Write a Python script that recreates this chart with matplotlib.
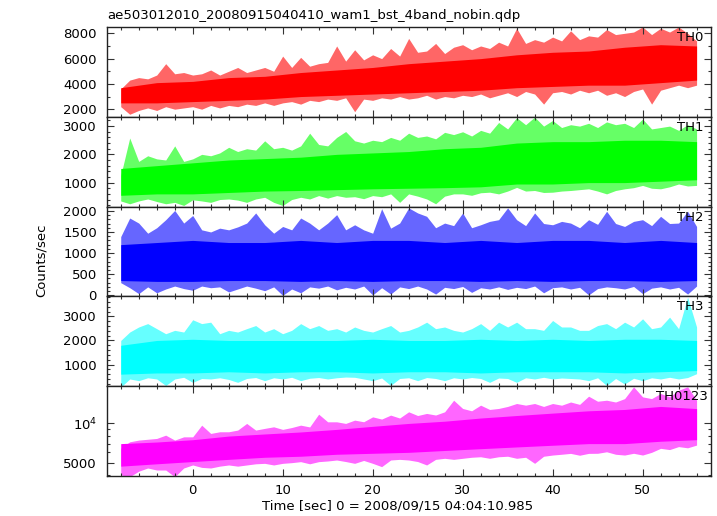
import numpy as np
import matplotlib
matplotlib.use("Agg")
import matplotlib.pyplot as plt
from matplotlib.ticker import MultipleLocator, FixedLocator, FixedFormatter, LogLocator, NullFormatter

plt.rcParams['font.family'] = ['DejaVu Sans']
plt.rcParams['font.size'] = 9.5

# time bins [sec], one per second
t = np.arange(-8, 57)
# coarse times for the dense core of each curve
tc = np.arange(-8, 57, 4)

# spike tops / bottoms of each light curve (counts/sec)
th0_hi = [3600, 4300, 4500, 4400, 4700, 5600, 4800, 4900, 4700, 4800, 5100, 4700, 5000,
          5300, 4900, 5100, 5300, 5000, 6200, 5300, 6100, 5400, 5600, 5700, 7000, 5800,
          6700, 5900, 6300, 6000, 6800, 6200, 7600, 6500, 6600, 7200, 6400, 6900, 7100,
          6700, 7000, 6800, 7300, 7000, 8400, 7200, 7500, 7300, 7700, 7400, 8200, 7500,
          7800, 7700, 8300, 7900, 8000, 8100, 8500, 7900, 8400, 8100, 8500, 8000, 7400]
th0_lo = [2200, 1600, 1900, 2100, 1900, 2200, 2000, 2100, 2200, 2000, 2300, 2100, 2300,
          2200, 2400, 2300, 2500, 2300, 2500, 2600, 2400, 2700, 2600, 2800, 2700, 2900,
          1800, 2800, 2700, 2900, 2800, 3000, 2800, 2900, 3100, 2800, 3000, 2900, 3100,
          3000, 3200, 2900, 3100, 3300, 3000, 3400, 3200, 2400, 3300, 3400, 3200, 3500,
          3300, 3500, 3100, 3300, 3000, 3400, 3600, 2400, 3500, 3700, 3900, 3700, 3900]

th1_hi = [1250, 2580, 1750, 1950, 1840, 1800, 2300, 1750, 1840, 2000, 1950, 2050, 2250,
          2100, 2200, 2150, 2480, 2200, 2250, 2150, 2300, 2750, 2350, 2300, 2600, 2810,
          2480, 2400, 2500, 2450, 2600, 2500, 2750, 2600, 2650, 2550, 2780, 2700, 2800,
          2650, 2850, 2750, 3130, 2900, 3300, 3050, 3320, 3000, 3200, 2950, 3050, 3000,
          3100, 2950, 3150, 3050, 3100, 2950, 3250, 2900, 2950, 3000, 2850, 3050, 2900]
th1_lo = [350, 250, 350, 420, 330, 250, 300, 190, 390, 350, 300, 400, 420,
          380, 300, 420, 480, 300, 190, 400, 480, 420, 540, 450, 540, 480,
          500, 430, 540, 500, 600, 300, 600, 520, 420, 250, 520, 600, 600,
          550, 640, 660, 600, 700, 830, 700, 720, 650, 660, 700, 720, 750,
          780, 700, 600, 720, 780, 820, 900, 800, 780, 850, 950, 880, 900]

th2_hi = [1390, 1830, 1710, 1470, 1600, 1790, 2010, 1710, 1890, 1550, 1500, 1590, 1550,
          1620, 1710, 1950, 1670, 1470, 1630, 1550, 1830, 1710, 1550, 1710, 1910, 1550,
          1670, 1550, 1470, 2050, 1590, 1710, 2070, 1950, 1870, 1600, 1710, 1650, 1950,
          1600, 1670, 1750, 1790, 2070, 1790, 1650, 1950, 1700, 1670, 1750, 1710, 1600,
          1790, 1680, 1990, 1700, 1630, 1750, 1790, 1650, 1870, 1700, 1710, 1990, 1630]
th2_lo = [300, 180, 40, 200, 60, 150, 220, 160, 120, 220, 180, 200, 80,
          150, 220, 170, 110, 200, 0, 150, 60, 200, 170, 220, 130, 190,
          150, 220, 10, 180, 30, 200, 160, 220, 150, 30, 190, 160, 210,
          70, 180, 150, 200, 140, 190, 160, 220, 60, 180, 200, 150, 190,
          10, 160, 200, 180, 150, 210, 40, 170, 200, 150, 190, 30, 220]

th3_hi = [2000, 2350, 2560, 2700, 2490, 2280, 2420, 2350, 2860, 2700, 2760, 2280, 2420,
          2350, 2490, 2620, 2350, 2490, 2280, 2420, 2700, 2490, 2620, 2420, 2490, 2350,
          2560, 2420, 2350, 2490, 2620, 2350, 2420, 2560, 2760, 2490, 2560, 2420, 2350,
          2490, 2700, 2420, 2760, 2560, 2760, 2490, 2490, 2420, 2830, 2560, 2560, 2420,
          2420, 2620, 2700, 2490, 2760, 2560, 2900, 2490, 2560, 2970, 2490, 3800, 2560]
th3_lo = [60, 400, 330, 450, 400, 130, 400, 470, 260, 420, 400, 450, 380,
          260, 420, 460, 330, 450, 400, 470, 330, 430, 460, 400, 450, 480,
          470, 400, 330, 440, 130, 420, 450, 330, 460, 420, 330, 450, 400,
          460, 420, 260, 440, 420, 260, 450, 400, 470, 400, 440, 420, 400,
          330, 450, 130, 420, 190, 430, 330, 450, 400, 470, 400, 460, 620]

th0123_hi = [6440, 7230, 7450, 7560, 7670, 8130, 7450, 7890, 7890, 9700, 8380, 8630, 8630,
             8890, 10000, 8890, 9160, 9420, 9000, 9300, 9700, 9400, 11780, 10290, 10290, 10000,
             10600, 10300, 11230, 10800, 11580, 11000, 12280, 11500, 11930, 11600, 12280, 15070, 13030,
             12500, 13810, 12800, 13030, 13500, 14220, 13810, 14220, 13500, 14220, 13800, 14600, 14000,
             16180, 14800, 15070, 14600, 15500, 19100, 15990, 15500, 16970, 16000, 17980, 19100, 15070]
th0123_lo = [4020, 3900, 4300, 4550, 4390, 4390, 3900, 4550, 4800, 4600, 4550, 4700, 4800,
             4700, 4800, 4900, 4940, 4800, 4940, 5000, 5090, 4900, 5090, 5150, 5240, 5100,
             4940, 5200, 4940, 4660, 5240, 5300, 5240, 5100, 4800, 5300, 5400, 5300, 5400,
             5500, 5550, 5400, 5550, 5600, 5400, 5500, 4940, 5600, 5720, 5800, 5890, 5700,
             5890, 5900, 6060, 5800, 5720, 5900, 5720, 6000, 6440, 6300, 6640, 6500, 6820]

# dense (solid) part of each curve, every 4 sec
th0_core_hi = [3700, 4100, 4200, 4500, 4600, 4900, 5100, 5300, 5600, 5800, 6000, 6300, 6500, 6600, 6900, 7100, 7000]
th0_core_lo = [2500, 2500, 2600, 2700, 2800, 3000, 3100, 3200, 3300, 3400, 3500, 3700, 3800, 3900, 3900, 4100, 4300]
th1_core_hi = [1500, 1600, 1700, 1800, 1850, 1900, 2000, 2050, 2100, 2200, 2250, 2400, 2450, 2450, 2500, 2500, 2450]
th1_core_lo = [550, 600, 600, 650, 700, 720, 750, 780, 800, 820, 850, 950, 950, 1000, 1000, 1050, 1100]
th2_core_hi = [1200, 1250, 1300, 1250, 1250, 1300, 1250, 1300, 1300, 1250, 1300, 1250, 1300, 1300, 1250, 1300, 1250]
th2_core_lo = [350, 330, 330, 350, 350, 330, 350, 330, 350, 350, 330, 350, 330, 350, 350, 330, 350]
th3_core_hi = [1800, 2000, 2050, 2000, 2000, 2000, 2000, 2050, 2000, 2000, 2050, 2000, 2050, 2000, 2050, 2050, 2000]
th3_core_lo = [600, 650, 650, 700, 650, 700, 700, 650, 700, 700, 650, 700, 700, 700, 650, 700, 750]
th0123_core_hi = [7000, 7200, 7500, 8000, 8300, 8600, 9000, 9500, 10000, 10400, 11000, 11500, 12000, 12500, 12800, 13500, 13000]
th0123_core_lo = [4700, 4900, 5100, 5300, 5500, 5600, 5800, 5900, 6000, 6200, 6400, 6600, 6800, 7000, 7000, 7300, 7500]

names = ["TH0", "TH1", "TH2", "TH3", "TH0123"]
colors = ["#ff0000", "#00ff00", "#0000ff", "#00ffff", "#ff00ff"]
his = [th0_hi, th1_hi, th2_hi, th3_hi, th0123_hi]
los = [th0_lo, th1_lo, th2_lo, th3_lo, th0123_lo]
core_his = [th0_core_hi, th1_core_hi, th2_core_hi, th3_core_hi, th0123_core_hi]
core_los = [th0_core_lo, th1_core_lo, th2_core_lo, th3_core_lo, th0123_core_lo]
ylims = [(1400, 8500), (150, 3330), (-25, 2100), (100, 3830), (3950, 19300)]
majors = [2000, 1000, 500, 1000, None]
minors = [1000, 200, 100, 200, None]
label_x = [0.987, 0.987, 0.987, 0.987, 0.995]

fig = plt.figure(figsize=(7.17, 5.16), dpi=100)
gs = fig.add_gridspec(5, 1, left=0.1488, right=0.9916, top=0.9477, bottom=0.0775, hspace=0)

for i in range(5):
    ax = fig.add_subplot(gs[i])
    # fringe out to the spike extremes, solid dense core inside
    ax.fill_between(t, los[i], his[i], color=colors[i], alpha=0.6, lw=0)
    ax.fill_between(tc, core_los[i], core_his[i], color=colors[i], lw=0)
    ax.set_xlim(-9.56, 57.6)
    if i == 4:
        ax.set_yscale("log")
        ax.yaxis.set_major_locator(FixedLocator([5000, 10000]))
        ax.yaxis.set_major_formatter(FixedFormatter(["5000", r"$10^4$"]))
        ax.yaxis.set_minor_locator(LogLocator(base=10, subs=np.arange(2, 10)))
        ax.yaxis.set_minor_formatter(NullFormatter())
    else:
        ax.yaxis.set_major_locator(MultipleLocator(majors[i]))
        ax.yaxis.set_minor_locator(MultipleLocator(minors[i]))
    ax.set_ylim(*ylims[i])
    ax.xaxis.set_major_locator(MultipleLocator(10))
    ax.xaxis.set_minor_locator(MultipleLocator(2))
    ax.tick_params(which="both", direction="in", top=True, right=True, width=0.8, color="#333333")
    ax.tick_params(which="major", length=5)
    ax.tick_params(which="minor", length=2.5)
    ax.tick_params(axis="y", pad=7)
    ax.tick_params(axis="x", pad=6)
    for s in ax.spines.values():
        s.set_linewidth(1.0)
        s.set_color("#222222")
    if i < 4:
        ax.tick_params(labelbottom=False)
    ax.text(label_x[i], 0.883, names[i], transform=ax.transAxes, ha="right", va="center")

fig.text(107 / 717, 1 - 15.7 / 516, "ae503012010_20080915040410_wam1_bst_4band_nobin.qdp",
         ha="left", va="center")
fig.text(397.5 / 717, 1 - 506 / 516, "Time [sec] 0 = 2008/09/15 04:04:10.985", ha="center", va="center")
fig.text(41 / 717, 1 - 260 / 516, "Counts/sec", rotation=90, ha="center", va="center")

fig.savefig("out.png", dpi=100)
